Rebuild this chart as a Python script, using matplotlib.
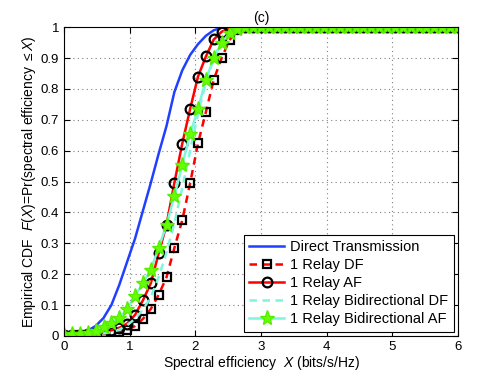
import matplotlib
matplotlib.use("Agg")
import matplotlib.pyplot as plt
import numpy as np

plt.rcParams['font.family'] = ['Liberation Sans', 'DejaVu Sans']
plt.rcParams['mathtext.fontset'] = 'custom'
plt.rcParams['mathtext.it'] = 'Liberation Sans:italic'
plt.rcParams['mathtext.rm'] = 'Liberation Sans'

# spectral efficiency grid (bits/s/Hz), step 0.12
x = np.linspace(0, 6, 51)

tail = [1.0] * 28  # values from x = 2.76 to 6

direct = [0.003, 0.005, 0.009, 0.017, 0.032, 0.058, 0.10, 0.165, 0.24, 0.315,
          0.405, 0.495, 0.59, 0.68, 0.79, 0.86, 0.91, 0.945, 0.972, 0.99,
          0.998, 1.0, 1.0] + tail
relay_df = [0.001, 0.001, 0.002, 0.003, 0.004, 0.005, 0.008, 0.012, 0.019, 0.032,
            0.055, 0.087, 0.133, 0.19, 0.285, 0.375, 0.495, 0.624, 0.725, 0.83,
            0.90, 0.958, 0.99] + tail
relay_af = [0.002, 0.003, 0.004, 0.006, 0.008, 0.012, 0.018, 0.026, 0.04, 0.068,
            0.115, 0.17, 0.267, 0.36, 0.496, 0.623, 0.735, 0.84, 0.905, 0.96,
            0.985, 0.997, 1.0] + tail
bidir_df = [0.002, 0.002, 0.003, 0.004, 0.006, 0.008, 0.012, 0.02, 0.035, 0.055,
            0.085, 0.125, 0.19, 0.27, 0.365, 0.48, 0.60, 0.72, 0.82, 0.90,
            0.955, 0.985, 0.998] + tail
bidir_af = [0.003, 0.005, 0.007, 0.01, 0.017, 0.03, 0.043, 0.058, 0.087, 0.13,
            0.17, 0.215, 0.285, 0.36, 0.453, 0.553, 0.654, 0.735, 0.83, 0.90,
            0.95, 0.98, 0.995] + tail

labels = ['Direct Transmission', '1 Relay DF', '1 Relay AF',
          '1 Relay Bidirectional DF', '1 Relay Bidirectional AF']

fig = plt.figure(figsize=(5.01, 3.77), dpi=100)
ax = fig.add_axes([0.128, 0.109, 0.786, 0.819])

ax.plot(x, direct, color='#2040ff', lw=1.8, label=labels[0])
ax.plot(x, relay_df, color='red', lw=1.8, ls=(0, (3, 2.2)), marker='s', ms=5.5,
        mfc='none', mec='black', mew=1.6, label=labels[1])
ax.plot(x, relay_af, color='red', lw=1.8, marker='o', ms=7,
        mfc='none', mec='black', mew=1.6, label=labels[2])
ax.plot(x, bidir_df, color='#7ff5dc', lw=1.8, ls=(0, (3, 2.2)), label=labels[3])
ax.plot(x, bidir_af, color='#7ff5dc', lw=1.8, marker='*', ms=11,
        mfc='#66ff00', mec='#55ee00', mew=1.0, label=labels[4])

ax.set_xlim(0, 6)
ax.set_ylim(0, 1)
ax.set_xticks(range(7))
ax.set_yticks(np.arange(0, 1.01, 0.1))
ax.set_yticklabels(['0', '0.1', '0.2', '0.3', '0.4', '0.5', '0.6', '0.7', '0.8', '0.9', '1'])
ax.tick_params(direction='in', top=True, right=True, labelsize=9.5, length=4)
ax.grid(True, ls=(0, (1, 3)), color='#808080', lw=0.8)
for s in ax.spines.values():
    s.set_linewidth(0.8)

ax.set_title('(c)', fontsize=10, pad=4)
ax.set_xlabel('Spectral efficiency  $X$ (bits/s/Hz)', fontsize=10, labelpad=1)
ax.set_ylabel('Empirical CDF  $F(X)$=Pr(spectral efficiency $\\leq X$)', fontsize=10, labelpad=2)

leg = ax.legend(loc='lower right', fontsize=10.5, fancybox=False, framealpha=1,
                edgecolor='black', borderaxespad=0.3, handlelength=2.4,
                borderpad=0.35, labelspacing=0.28, handletextpad=0.4)
leg.get_frame().set_linewidth(0.8)

fig.savefig('out.png', dpi=100)
